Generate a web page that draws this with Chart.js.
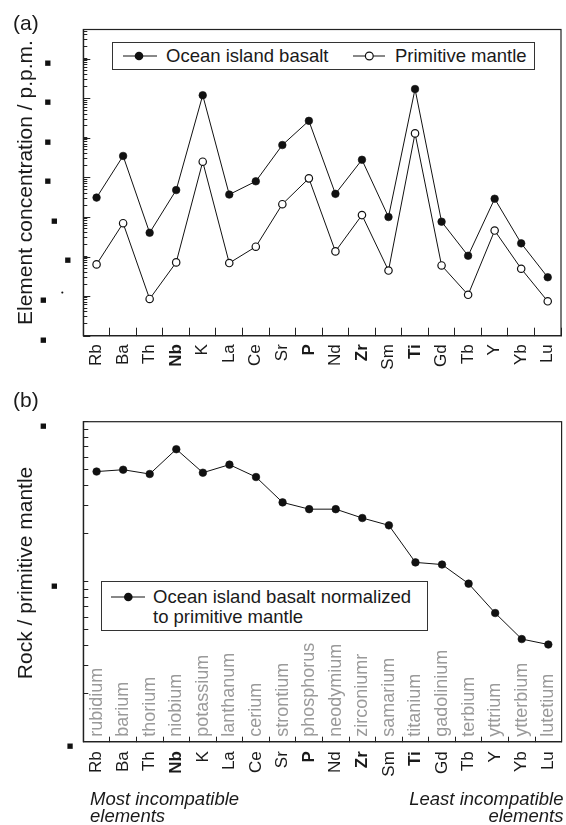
<!DOCTYPE html>
<html>
<head>
<meta charset="utf-8">
<script src="https://cdn.jsdelivr.net/npm/chart.js@4.4.1/dist/chart.umd.min.js"></script>
<style>
  body { margin: 0; background: #fff; }
  #page { position: relative; width: 566px; height: 825px; overflow: hidden; font-family: "Liberation Sans", Arial, sans-serif; color: #1a1a1a; }
  canvas { position: absolute; left: 0; }
  .txt { position: absolute; white-space: nowrap; font-size: 18.5px; line-height: 20px; }
  .panel { position: absolute; left: 13px; font-size: 21px; line-height: 24px; }
  .box { position: absolute; box-sizing: border-box; border: 1px solid #333; background: #fff; }
  .note { position: absolute; font-style: italic; font-size: 18.5px; line-height: 17px; white-space: nowrap; }
  svg { position: absolute; overflow: visible; }
</style>
</head>
<body>
<div id="page">
  <canvas id="conc" width="566" height="385" style="top:0"></canvas>
  <canvas id="ratio" width="566" height="410" style="top:385px"></canvas>

  <div class="panel" style="top:11px">(a)</div>
  <div class="panel" style="top:388px">(b)</div>

  <div class="box" style="left:112px; top:42px; width:423px; height:28px"></div>
  <svg style="left:123px; top:56px" width="34" height="1"><line x1="0" y1="0" x2="34" y2="0" stroke="#111" stroke-width="1"/><circle cx="16" cy="0" r="4.3" fill="#111"/></svg>
  <div class="txt" style="left:166px; top:46px">Ocean island basalt</div>
  <svg style="left:353px; top:56px" width="32" height="1"><line x1="0" y1="0" x2="32" y2="0" stroke="#111" stroke-width="1"/><circle cx="16.3" cy="0" r="3.9" fill="#fff" stroke="#111" stroke-width="1.2"/></svg>
  <div class="txt" style="left:395px; top:46px">Primitive mantle</div>

  <div class="box" style="left:101px; top:581px; width:327px; height:50px"></div>
  <svg style="left:111px; top:597px" width="34" height="1"><line x1="0" y1="0" x2="34" y2="0" stroke="#111" stroke-width="1"/><circle cx="17.3" cy="0" r="4.3" fill="#111"/></svg>
  <div class="txt" style="left:153px; top:587px; line-height:19.5px">Ocean island basalt normalized<br>to primitive mantle</div>

  <div class="note" style="left:90px; top:790px">Most incompatible<br>elements</div>
  <div class="note" style="right:2.5px; top:790px; text-align:right">Least incompatible<br>elements</div>
</div>

<script>
const elements = ['Rb', 'Ba', 'Th', 'Nb', 'K', 'La', 'Ce', 'Sr', 'P', 'Nd', 'Zr', 'Sm', 'Ti', 'Gd', 'Tb', 'Y', 'Yb', 'Lu'];
const elementNames = ['rubidium', 'barium', 'thorium', 'niobium', 'potassium', 'lanthanum', 'cerium', 'strontium',
  'phosphorus', 'neodymium', 'zirconiumr', 'samarium', 'titanium', 'gadolinium', 'terbium', 'yttrium', 'ytterbium', 'lutetium'];
const boldElements = ['Nb', 'P', 'Zr', 'Ti'];

// p.p.m.
const oceanIslandBasalt = [31, 350, 4.0, 48, 12000, 37, 80, 660, 2700, 38.5, 280, 10.0, 17200, 7.62, 1.05, 29, 2.16, 0.30];
const primitiveMantle = [0.635, 6.99, 0.085, 0.713, 250, 0.687, 1.775, 21.1, 95, 1.354, 11.2, 0.444, 1300, 0.596, 0.108, 4.55, 0.493, 0.074];
// rock / primitive mantle
const normalizedBasalt = [48.8, 50.1, 47.1, 67.3, 48.0, 53.9, 45.1, 31.3, 28.4, 28.4, 25.0, 22.5, 13.2, 12.8, 9.72, 6.37, 4.38, 4.05];

const concTickValues = [0.01, 0.1, 1, 10, 100, 1000, 10000, 100000];
const concTickLabels = ['■', ['•', '■', ''], '■', '■', '■', '■', '■', '■'];
const ratioTickValues = [1, 10, 100];
const ratioTickLabels = ['■', '■', '■'];

const FONT = "'Liberation Sans', Arial, sans-serif";
const INK = '#1a1a1a';

// where the little tick marks sit, horizontally (px from the left edge)
const concLabelX = [44, [62, 44, 44], 68, 55, 48, 48, 48, 48];
const ratioLabelX = [70, 54, 43];

const TICK_FONT = { family: "'DejaVu Sans'", size: 7, lineHeight: 0.95 };
const meter = document.createElement('canvas').getContext('2d');
meter.font = TICK_FONT.size + "px 'DejaVu Sans'";
const spaceW = meter.measureText(' ').width;
const squareW = meter.measureText('■').width;
const labelAnchor = 70 + squareW / 2;

function padLabel(text, centerX) {
  const w = meter.measureText(text).width;
  const n = Math.max(0, Math.round((labelAnchor - w / 2 - centerX) / spaceW));
  return text + ' '.repeat(n);
}

function decadeLabel(values, labels, xs) {
  return value => {
    const i = values.findIndex(v => Math.abs(Math.log10(v) - Math.log10(value)) < 1e-6);
    if (i < 0) return '';
    const lab = labels[i];
    if (Array.isArray(lab)) return lab.map((s, k) => padLabel(s, xs[i][k]));
    return padLabel(lab, xs[i]);
  };
}

// keep 1..9 x 10^n, drop the 1.5 steps and the axis max
function keepDecadeSteps(scale) {
  scale.ticks = scale.ticks.filter(t => {
    const m = t.value / Math.pow(10, Math.floor(Math.log10(t.value) + 1e-9));
    return Math.abs(m - Math.round(m)) < 1e-6;
  });
}

// text written upright along the x scale, one per category
function uprightText(chart, words, y, font, color, align, boldList) {
  const { ctx } = chart;
  const x = chart.scales.x;
  ctx.save();
  ctx.fillStyle = color;
  ctx.textAlign = align;
  ctx.textBaseline = 'middle';
  words.forEach((word, i) => {
    ctx.font = (boldList && boldList.includes(word) ? 'bold ' : '') + font;
    ctx.save();
    ctx.translate(x.getPixelForValue(i), y);
    ctx.rotate(-Math.PI / 2);
    ctx.fillText(word, 0, 0);
    ctx.restore();
  });
  ctx.restore();
}

const framePlugin = {
  id: 'frame',
  beforeDatasetsDraw(chart, args, opts) {
    if (!opts.names) return;
    uprightText(chart, opts.names, chart.chartArea.bottom - 5, "18px 'Liberation Sans'", '#9a9a9a', 'left');
  },
  afterDraw(chart, args, opts) {
    const { ctx, chartArea: a } = chart;
    ctx.save();
    ctx.strokeStyle = '#222';
    ctx.lineWidth = 1.2;
    ctx.strokeRect(a.left, a.top, a.right - a.left, a.bottom - a.top);
    if (opts.majorTick) {
      const y = chart.scales.y;
      ctx.lineWidth = 1;
      y.ticks.forEach((t, i) => {
        if (!t.major) return;
        const py = Math.round(y.getPixelForTick(i)) + 0.5;
        ctx.beginPath();
        ctx.moveTo(a.left, py);
        ctx.lineTo(a.left + opts.majorTick, py);
        ctx.stroke();
      });
    }
    ctx.restore();
    uprightText(chart, chart.data.labels, a.bottom + opts.symbolGap, "17px 'Liberation Sans'", INK, 'right', boldElements);
  }
};

function elementAxis(tickLen) {
  return {
    type: 'category',
    offset: true,
    afterFit: s => { s.height = 40; },
    border: { display: true, color: '#222', width: 1.2 },
    grid: { offset: true, drawOnChartArea: false, drawTicks: true, tickLength: tickLen, tickColor: '#222', tickWidth: 1 },
    ticks: { display: false, autoSkip: false }
  };
}

function logAxis(min, max, title, tickLen, labelOffset, callback) {
  return {
    type: 'logarithmic',
    min: min,
    max: max,
    afterFit: s => { s.width = 83.3; },
    afterBuildTicks: keepDecadeSteps,
    border: { display: true, color: '#222', width: 1.2 },
    grid: { drawOnChartArea: false, drawTicks: true, tickLength: tickLen, tickColor: '#222', tickWidth: 1 },
    ticks: {
      autoSkip: false,
      padding: 83.3 - tickLen - labelAnchor,
      labelOffset: labelOffset,
      color: '#111',
      font: TICK_FONT,
      callback: callback
    },
    title: {
      display: true,
      text: title,
      color: INK,
      font: { family: FONT, size: 21 },
      padding: { top: 13.4, bottom: 0 }
    }
  };
}

const pointLine = {
  borderColor: '#111',
  borderWidth: 1,
  pointRadius: 3.8,
  pointHoverRadius: 3.8,
  tension: 0
};

new Chart(document.getElementById('conc'), {
  type: 'line',
  data: {
    labels: elements,
    datasets: [
      Object.assign({ label: 'Primitive mantle', data: primitiveMantle,
        pointBackgroundColor: '#fff', pointBorderColor: '#111', pointBorderWidth: 1.2 }, pointLine,
        { pointRadius: 3.7 }),
      Object.assign({ label: 'Ocean island basalt', data: oceanIslandBasalt,
        pointBackgroundColor: '#111', pointBorderColor: '#111', pointBorderWidth: 0.6 }, pointLine)
    ]
  },
  options: {
    responsive: false,
    animation: false,
    devicePixelRatio: 1,
    layout: { padding: { top: 29.5, right: 3, bottom: 9.3, left: 0 } },
    scales: {
      x: elementAxis(-8),
      y: logAxis(0.01, 5.5e5, 'Element concentration / p.p.m.', -4, 4,
        decadeLabel(concTickValues, concTickLabels, concLabelX))
    },
    plugins: { legend: { display: false }, tooltip: { enabled: false }, frame: { majorTick: 7, symbolGap: 8.5 } }
  },
  plugins: [framePlugin]
});

new Chart(document.getElementById('ratio'), {
  type: 'line',
  data: {
    labels: elements,
    datasets: [
      Object.assign({ label: 'Ocean island basalt normalized to primitive mantle', data: normalizedBasalt,
        pointBackgroundColor: '#111', pointBorderColor: '#111', pointBorderWidth: 0.6 }, pointLine)
    ]
  },
  options: {
    responsive: false,
    animation: false,
    devicePixelRatio: 1,
    layout: { padding: { top: 36.7, right: 3, bottom: 13.3, left: 0 } },
    scales: {
      x: elementAxis(-5),
      y: logAxis(1, 100, '   Rock / primitive mantle', -5, 4,
        decadeLabel(ratioTickValues, ratioTickLabels, ratioLabelX))
    },
    plugins: { legend: { display: false }, tooltip: { enabled: false }, frame: { names: elementNames, symbolGap: 9.5 } }
  },
  plugins: [framePlugin]
});
</script>
</body>
</html>
